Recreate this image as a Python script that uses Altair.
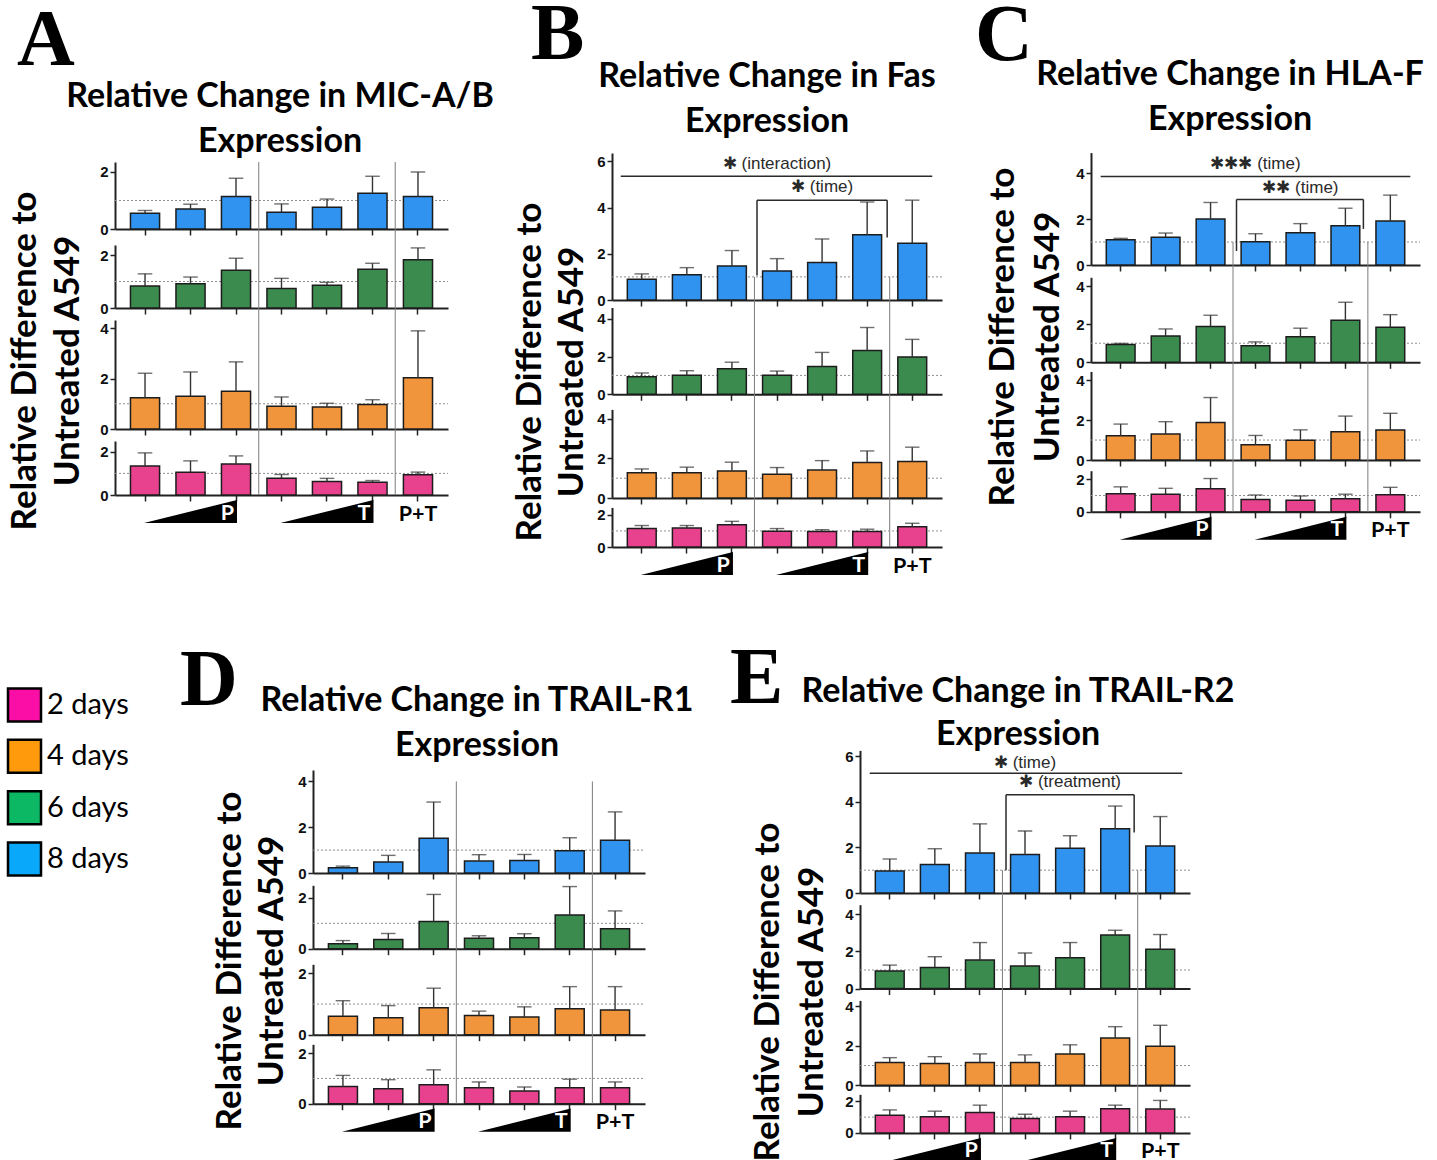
import altair as alt
import pandas as pd

# ---------------------------------------------------------------- data
CONDITIONS = ["P1", "P2", "P3", "T1", "T2", "T3", "P+T"]
DAYS = ["8 days", "6 days", "4 days", "2 days"]          # panel rows, top to bottom
BAR_COLORS = ["#2f93ef", "#3b8b4f", "#f0953b", "#e8428f"]

LEGEND_DAYS = ["2 days", "4 days", "6 days", "8 days"]
LEGEND_COLORS = ["#fb0ea5", "#ff9a0c", "#0cb864", "#0aa8fb"]

# A: MIC-A/B  (mean, SD)
micab_8d = [0.55, 0.70, 1.14, 0.59, 0.76, 1.25, 1.14]
micab_8d_sd = [0.10, 0.17, 0.64, 0.29, 0.29, 0.60, 0.86]
micab_6d = [0.83, 0.92, 1.43, 0.74, 0.86, 1.46, 1.82]
micab_6d_sd = [0.46, 0.25, 0.45, 0.38, 0.11, 0.23, 0.45]
micab_4d = [1.24, 1.30, 1.50, 0.90, 0.87, 0.97, 2.03]
micab_4d_sd = [0.97, 0.96, 1.16, 0.37, 0.15, 0.19, 1.86]
micab_2d = [1.34, 1.05, 1.44, 0.78, 0.63, 0.59, 0.94]
micab_2d_sd = [0.61, 0.53, 0.37, 0.17, 0.14, 0.08, 0.12]

# B: Fas
fas_8d = [0.90, 1.09, 1.47, 1.26, 1.62, 2.82, 2.45]
fas_8d_sd = [0.23, 0.31, 0.67, 0.53, 1.02, 1.42, 1.87]
fas_6d = [0.93, 1.01, 1.35, 1.01, 1.47, 2.32, 1.98]
fas_6d_sd = [0.20, 0.24, 0.35, 0.22, 0.75, 1.22, 0.93]
fas_4d = [1.28, 1.28, 1.37, 1.20, 1.41, 1.79, 1.85]
fas_4d_sd = [0.19, 0.28, 0.44, 0.34, 0.48, 0.59, 0.72]
fas_2d = [1.15, 1.18, 1.39, 0.99, 0.96, 0.96, 1.27]
fas_2d_sd = [0.19, 0.16, 0.21, 0.16, 0.12, 0.15, 0.21]

# C: HLA-F
hlaf_8d = [1.10, 1.21, 2.00, 1.01, 1.40, 1.71, 1.91]
hlaf_8d_sd = [0.06, 0.18, 0.72, 0.35, 0.40, 0.76, 1.13]
hlaf_6d = [0.94, 1.38, 1.88, 0.87, 1.34, 2.21, 1.84]
hlaf_6d_sd = [0.05, 0.37, 0.59, 0.20, 0.45, 0.94, 0.66]
hlaf_4d = [1.21, 1.30, 1.88, 0.77, 0.99, 1.41, 1.50]
hlaf_4d_sd = [0.59, 0.62, 1.25, 0.46, 0.52, 0.79, 0.84]
hlaf_2d = [1.10, 1.08, 1.42, 0.75, 0.71, 0.80, 1.05]
hlaf_2d_sd = [0.43, 0.36, 0.62, 0.28, 0.26, 0.28, 0.45]

# D: TRAIL-R1
tr1_8d = [0.23, 0.48, 1.52, 0.52, 0.55, 0.97, 1.43]
tr1_8d_sd = [0.07, 0.29, 1.58, 0.28, 0.26, 0.57, 1.24]
tr1_6d = [0.20, 0.36, 1.07, 0.41, 0.43, 1.33, 0.79]
tr1_6d_sd = [0.12, 0.24, 1.07, 0.10, 0.16, 1.12, 0.70]
tr1_4d = [0.60, 0.55, 0.88, 0.63, 0.58, 0.85, 0.81]
tr1_4d_sd = [0.51, 0.40, 0.64, 0.14, 0.33, 0.72, 0.76]
tr1_2d = [0.68, 0.59, 0.75, 0.63, 0.50, 0.63, 0.63]
tr1_2d_sd = [0.44, 0.36, 0.59, 0.23, 0.16, 0.34, 0.23]

# E: TRAIL-R2
tr2_8d = [0.96, 1.25, 1.75, 1.69, 1.96, 2.82, 2.06]
tr2_8d_sd = [0.53, 0.69, 1.28, 1.03, 0.55, 0.99, 1.29]
tr2_6d = [0.95, 1.13, 1.53, 1.21, 1.66, 2.88, 2.11]
tr2_6d_sd = [0.31, 0.58, 0.94, 0.70, 0.81, 0.25, 0.79]
tr2_4d = [1.16, 1.11, 1.16, 1.16, 1.59, 2.39, 1.98]
tr2_4d_sd = [0.24, 0.34, 0.43, 0.38, 0.46, 0.58, 1.06]
tr2_2d = [1.12, 1.03, 1.29, 0.92, 1.03, 1.53, 1.51]
tr2_2d_sd = [0.34, 0.35, 0.47, 0.26, 0.35, 0.23, 0.55]

# significance annotations (text, heights in data units)
SIG_B = {"main": "✱ (interaction)", "main_y": 5.87, "line_y": 5.35, "line_off": (-21, 20),
         "sub": "✱ (time)", "sub_y": 4.9, "br_y": 4.32, "br_off": (-20, 20),
         "br_left": 1.06, "br_right": 2.7}
SIG_C = {"main": "✱✱✱ (time)", "main_y": 4.4, "line_y": 3.85, "line_off": (-20, 20),
         "sub": "✱✱ (time)", "sub_y": 3.36, "br_y": 2.85, "br_off": (-19, 18),
         "br_left": 0.61, "br_right": 1.57}
SIG_E = {"main": "✱ (time)", "main_y": 5.68, "line_y": 5.25, "line_off": (-20, 22),
         "sub": "✱ (treatment)", "sub_y": 4.85, "br_y": 4.31, "br_off": (-19, 19),
         "br_left": 1.0, "br_right": 2.65}

# ---------------------------------------------------------------- layout / style
PAGE_W, PAGE_H = 1437, 1160
ONE = pd.DataFrame({"k": [0]})
PAD_IN, PAD_OUT = 0.36, 0.34
TITLE_FONT = "Lato"
TICK_FONT = "Liberation Sans"
WEDGE = "M -1 0.25 L 1 0.25 L 1 -0.25 Z"
INK = "#2a2a2a"


def table(means, sds):
    recs = []
    for day, m, s in zip(DAYS, means, sds):
        for cond, mv, sv in zip(CONDITIONS, m, s):
            recs.append({"day": day, "cond": cond, "mean": mv, "upper": round(mv + sv, 3)})
    return pd.DataFrame(recs)


def cond_df(**cols):
    return pd.DataFrame(cols)


def xcond(field="cond"):
    return alt.X(f"{field}:N", title=None)


def text_at(text, x, y, **kw):
    return alt.Chart(ONE).mark_text(text=text, **kw).encode(x=alt.value(x), y=alt.value(y))


def header_layers(p):
    out = [text_at(p["letter"], p["letter_x"], p["letter_base"],
                   font="Liberation Serif", fontWeight="bold", fontSize=80,
                   align="left", baseline="alphabetic", color="black")]
    for line, ty in zip(p["title"], p["title_ys"]):
        out.append(text_at(line, p["title_cx"], ty, font=TITLE_FONT, fontWeight="bold",
                           fontSize=34, align="center", baseline="middle", color="black"))
    for line, tx in zip(["Relative Difference to", "Untreated A549"], p["ytitle_xs"]):
        out.append(text_at(line, tx, p["ytitle_cy"], font=TITLE_FONT, fontWeight="bold",
                           fontSize=35, angle=270, align="center", baseline="middle",
                           color="black"))
    return out


def sig_layers(sig):
    lo, hi = sig["line_off"]
    bl, br = sig["br_off"]
    return [
        alt.Chart(cond_df(a=["P1"], b=["P+T"])).mark_rule(
            color=INK, strokeWidth=1.5, xOffset=lo, x2Offset=hi).encode(
            x=xcond("a"), x2="b:N", y=alt.datum(sig["line_y"])),
        alt.Chart(cond_df(a=["T1"], b=["T3"])).mark_rule(
            color=INK, strokeWidth=1.5, xOffset=bl, x2Offset=br).encode(
            x=xcond("a"), x2="b:N", y=alt.datum(sig["br_y"])),
        alt.Chart(cond_df(a=["T1"])).mark_rule(color=INK, strokeWidth=1.5, xOffset=bl).encode(
            x=xcond("a"), y=alt.datum(sig["br_y"]), y2=alt.datum(sig["br_left"])),
        alt.Chart(cond_df(a=["T3"])).mark_rule(color=INK, strokeWidth=1.5, xOffset=br).encode(
            x=xcond("a"), y=alt.datum(sig["br_y"]), y2=alt.datum(sig["br_right"])),
        alt.Chart(cond_df(a=["T1"], t=[sig["main"]])).mark_text(
            font=TICK_FONT, fontSize=17, color=INK, baseline="middle").encode(
            x=xcond("a"), y=alt.datum(sig["main_y"]), text="t:N"),
        alt.Chart(cond_df(a=["T2"], t=[sig["sub"]])).mark_text(
            font=TICK_FONT, fontSize=17, color=INK, baseline="middle").encode(
            x=xcond("a"), y=alt.datum(sig["sub_y"]), text="t:N"),
    ]


def row_layer(df, p, i):
    """One bar row: its own x/y scales mapped onto the page through explicit ranges."""
    x0, W = p["x0"], p["W"]
    top, bot = p["rows"][i]
    st = W / (len(CONDITIONS) - PAD_IN + 2 * PAD_OUT)
    bw = st * (1 - PAD_IN)
    sub = df[df["day"] == DAYS[i]]
    xs = alt.Scale(domain=CONDITIONS, range=[x0, x0 + W],
                   paddingInner=PAD_IN, paddingOuter=PAD_OUT)
    ys = alt.Scale(domain=[0, p["doms"][i]], range=[bot, top], nice=False, zero=True)

    layers = [
        alt.Chart(ONE).mark_rule(color="#8f8f8f", strokeDash=[2, 2], strokeWidth=1).encode(
            x=alt.value(x0), x2=alt.value(x0 + W), y=alt.datum(1)),
        alt.Chart(sub).mark_bar(color=BAR_COLORS[i], stroke="#1c1c1c", strokeWidth=1.5).encode(
            x=alt.X("cond:N", scale=xs,
                    axis=alt.Axis(orient="bottom", offset=-(PAGE_H - bot), title=None,
                                  labels=False, tickSize=6)),
            y=alt.Y("mean:Q", scale=ys,
                    axis=alt.Axis(orient="left", offset=-x0, title=None, format="d",
                                  values=p["ticks"][i]))),
        alt.Chart(sub).mark_rule(color="#333333", strokeWidth=1.4).encode(
            x=xcond(), y=alt.Y("mean:Q", title=None), y2="upper:Q"),
        alt.Chart(sub).mark_tick(color="#333333", thickness=1.4, size=bw * 0.5).encode(
            x=xcond(), y=alt.Y("upper:Q", title=None)),
    ]

    if i == 0:
        # group separators between P / T / P+T, running down through all rows
        y_top = alt.value(top) if p["sep_from"] is None else alt.datum(p["sep_from"])
        layers.append(
            alt.Chart(cond_df(cond=["P3", "T3"])).mark_rule(
                color="#7c7c7c", strokeWidth=1, xOffset=st / 2).encode(
                x=xcond(), y=y_top, y2=alt.value(p["rows"][-1][1])))
        if p.get("sig"):
            layers += sig_layers(p["sig"])

    if i == len(DAYS) - 1:
        layers += [
            alt.Chart(cond_df(cond=["P2", "T2"])).mark_point(
                shape=WEDGE, filled=True, size=(2 * st + 2) ** 2, color="black",
                opacity=1, strokeWidth=0).encode(x=xcond(), y=alt.value(bot + 16.5)),
            alt.Chart(cond_df(cond=["P3", "T3"], lab=["P", "T"])).mark_text(
                font=TITLE_FONT, fontWeight="bold", fontSize=21.5, color="white",
                align="right", baseline="middle", xOffset=-2).encode(
                x=xcond(), y=alt.value(bot + 18.5), text="lab:N"),
            alt.Chart(cond_df(cond=["P+T"], lab=["P+T"])).mark_text(
                font=TITLE_FONT, fontWeight="bold", fontSize=21.5, color="black",
                align="center", baseline="middle").encode(
                x=xcond(), y=alt.value(bot + 19.5), text="lab:N"),
        ]
    return alt.layer(*layers)


def panel_layers(df, p):
    return [row_layer(df, p, i) for i in range(len(DAYS))] + header_layers(p)


# ---------------------------------------------------------------- panels
PANEL_A = dict(letter="A", title=["Relative Change in MIC-A/B", "Expression"],
               x0=115, W=333,
               rows=[(162, 229), (245, 308), (320, 429), (441, 495)],
               doms=[2.35, 2.38, 4.32, 2.5], ticks=[[0, 2], [0, 2], [0, 2, 4], [0, 2]],
               sep_from=None, letter_x=17, letter_base=65, title_cx=280,
               title_ys=(97, 142), ytitle_xs=(25, 68), ytitle_cy=361)
PANEL_B = dict(letter="B", title=["Relative Change in Fas", "Expression"],
               x0=612, W=330,
               rows=[(153, 300), (307.5, 394.3), (409.4, 498), (507.4, 547)],
               doms=[6.36, 4.6, 4.48, 2.47],
               ticks=[[0, 2, 4, 6], [0, 2, 4], [0, 2, 4], [0, 2]],
               sep_from=1, letter_x=531, letter_base=59, title_cx=767,
               title_ys=(77, 122), ytitle_xs=(530, 572), ytitle_cy=372, sig=SIG_B)
PANEL_C = dict(letter="C", title=["Relative Change in HLA-F", "Expression"],
               x0=1091, W=329,
               rows=[(152.6, 265), (277.3, 362.3), (371.4, 460), (470.7, 511.8)],
               doms=[4.89, 4.46, 4.44, 2.52],
               ticks=[[0, 2, 4], [0, 2, 4], [0, 2, 4], [0, 2]],
               sep_from=1, letter_x=975, letter_base=60, title_cx=1230,
               title_ys=(75, 120), ytitle_xs=(1003, 1048), ytitle_cy=337, sig=SIG_C)
PANEL_D = dict(letter="D", title=["Relative Change in TRAIL-R1", "Expression"],
               x0=313, W=332,
               rows=[(770, 873), (885.3, 948.7), (964.3, 1034.7), (1044.3, 1103.7)],
               doms=[4.5, 2.5, 2.3, 2.35], ticks=[[0, 2, 4], [0, 2], [0, 2], [0, 2]],
               sep_from=4, letter_x=180, letter_base=705, title_cx=477,
               title_ys=(701, 746), ytitle_xs=(230, 272), ytitle_cy=961)
PANEL_E = dict(letter="E", title=["Relative Change in TRAIL-R2", "Expression"],
               x0=860, W=330,
               rows=[(750.4, 893), (904.7, 988.6), (1000.4, 1085.3), (1094.3, 1132.9)],
               doms=[6.25, 4.5, 4.3, 2.45],
               ticks=[[0, 2, 4, 6], [0, 2, 4], [0, 2, 4], [0, 2]],
               sep_from=1, letter_x=730, letter_base=703, title_cx=1018,
               title_ys=(692, 735), ytitle_xs=(768, 812), ytitle_cy=992, sig=SIG_E)

df_a = table([micab_8d, micab_6d, micab_4d, micab_2d],
             [micab_8d_sd, micab_6d_sd, micab_4d_sd, micab_2d_sd])
df_b = table([fas_8d, fas_6d, fas_4d, fas_2d], [fas_8d_sd, fas_6d_sd, fas_4d_sd, fas_2d_sd])
df_c = table([hlaf_8d, hlaf_6d, hlaf_4d, hlaf_2d],
             [hlaf_8d_sd, hlaf_6d_sd, hlaf_4d_sd, hlaf_2d_sd])
df_d = table([tr1_8d, tr1_6d, tr1_4d, tr1_2d], [tr1_8d_sd, tr1_6d_sd, tr1_4d_sd, tr1_2d_sd])
df_e = table([tr2_8d, tr2_6d, tr2_4d, tr2_2d], [tr2_8d_sd, tr2_6d_sd, tr2_4d_sd, tr2_2d_sd])

# ---------------------------------------------------------------- legend
leg_df = pd.DataFrame({"day": LEGEND_DAYS, "color": LEGEND_COLORS})
leg_y = alt.Y("day:N", scale=alt.Scale(domain=LEGEND_DAYS, range=[705, 859], padding=0),
              axis=None)
legend = alt.layer(
    alt.Chart(leg_df).mark_square(size=33 * 33, filled=True, stroke="black",
                                  strokeWidth=2.5, opacity=1).encode(
        x=alt.value(24.5), y=leg_y, fill=alt.Fill("color:N", scale=None)),
    alt.Chart(leg_df).mark_text(font=TITLE_FONT, fontSize=29, align="left",
                                baseline="middle", color="black").encode(
        x=alt.value(47), y=leg_y, text="day:N"),
)

all_layers = []
for df, p in ((df_a, PANEL_A), (df_b, PANEL_B), (df_c, PANEL_C),
              (df_d, PANEL_D), (df_e, PANEL_E)):
    all_layers += panel_layers(df, p)
all_layers.append(legend)

chart = (
    alt.layer(*all_layers)
    .resolve_scale(x="independent", y="independent")
    .properties(width=PAGE_W, height=PAGE_H, padding=0, background="white",
                autosize=alt.AutoSizeParams(type="none"))
    .configure_view(strokeWidth=0)
    .configure_axis(labelFont=TICK_FONT, labelFontWeight="bold", labelFontSize=15,
                    labelColor="#111111", domainColor="#222222", domainWidth=2,
                    tickColor="#222222", tickWidth=1.5, tickSize=5, grid=False,
                    labelPadding=2)
)

chart.save("out.html", embed_options={"renderer": "svg", "actions": False})
